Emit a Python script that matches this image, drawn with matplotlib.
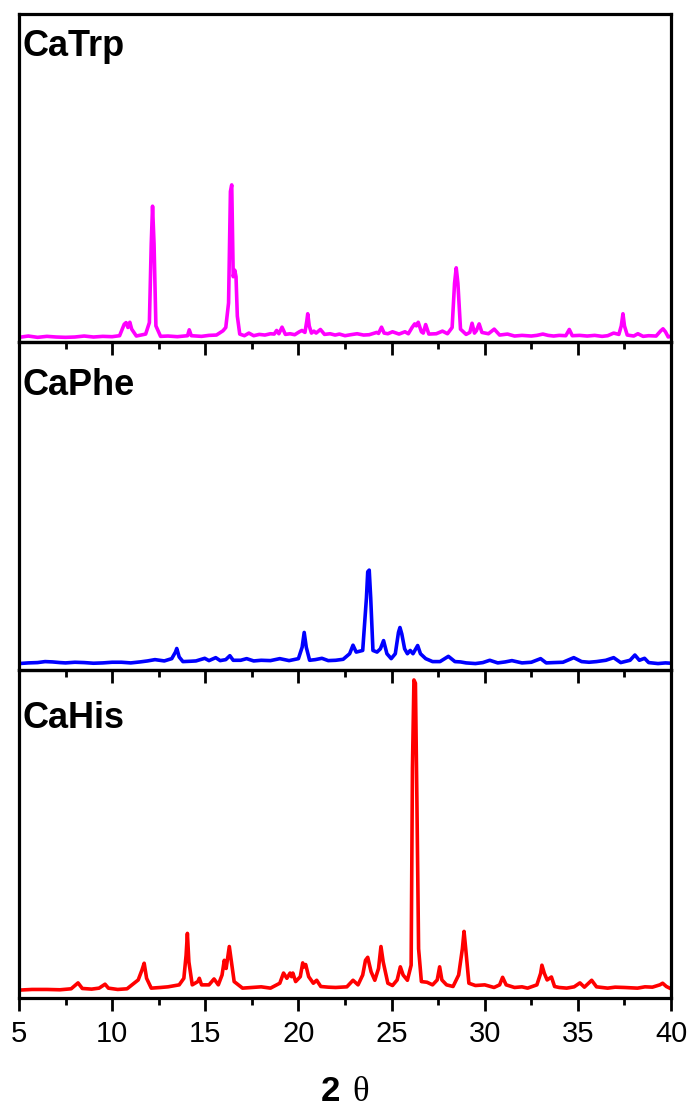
import numpy as np
import matplotlib
matplotlib.use("Agg")
import matplotlib.pyplot as plt
from matplotlib.ticker import MultipleLocator

plt.rcParams['font.family'] = ['Liberation Sans', 'DejaVu Sans']

# XRD traces (2theta, intensity in a.u., 0-100 per panel)
trp_x = [5.0, 5.5, 6.0, 6.5, 7.0, 7.5, 8.0, 8.5, 9.0, 9.5, 10.0, 10.4, 10.65, 10.75, 10.85,
         10.95, 11.05, 11.3, 11.8, 12.0, 12.1, 12.17, 12.25, 12.35, 12.6, 13.0, 13.5, 14.05,
         14.14, 14.25, 14.8, 15.2, 15.6, 15.95, 16.1, 16.25, 16.35, 16.42, 16.5, 16.58, 16.65,
         16.72, 16.85, 17.1, 17.34, 17.6, 17.9, 18.2, 18.5, 18.7, 18.83, 18.95, 19.12, 19.3,
         19.55, 19.8, 20.05, 20.19, 20.35, 20.45, 20.5, 20.58, 20.7, 20.83, 20.95, 21.18, 21.4,
         21.7, 21.97, 22.2, 22.5, 22.8, 23.15, 23.5, 23.8, 24.2, 24.3, 24.46, 24.6, 24.8,
         25.05, 25.4, 25.72, 25.9, 26.1, 26.24, 26.33, 26.43, 26.6, 26.7, 26.83, 27.0, 27.4,
         27.73, 28.0, 28.25, 28.38, 28.47, 28.56, 28.7, 29.0, 29.2, 29.32, 29.45, 29.55, 29.7,
         29.85, 30.2, 30.51, 30.8, 31.22, 31.6, 32.0, 32.5, 32.8, 33.12, 33.4, 33.7, 34.0,
         34.35, 34.54, 34.7, 35.1, 35.5, 35.9, 36.3, 36.6, 36.92, 37.2, 37.33, 37.42, 37.5,
         37.65, 38.0, 38.22, 38.5, 38.8, 39.2, 39.45, 39.57, 39.7, 39.85, 40.0]
trp_y = [1.5, 1.9, 1.5, 1.8, 1.6, 1.5, 1.6, 1.9, 1.6, 1.8, 1.7, 2.0, 5.5, 6.0, 4.5,
         6.1, 4.0, 1.9, 2.5, 6.0, 30.0, 41.5, 30.0, 5.0, 1.8, 1.9, 1.7, 2.0,
         3.8, 2.0, 1.8, 2.1, 2.2, 3.5, 4.5, 12.0, 46.0, 48.0, 20.0, 22.0, 20.0,
         8.0, 2.5, 2.0, 2.8, 2.0, 2.4, 2.2, 2.6, 2.5, 3.6, 2.6, 4.6, 2.4,
         2.6, 2.3, 3.2, 3.6, 3.0, 6.5, 8.7, 5.0, 2.8, 3.4, 2.8, 3.9, 2.4,
         2.6, 2.2, 2.5, 2.0, 2.3, 2.6, 2.2, 2.3, 3.0, 2.7, 4.6, 2.8, 2.6,
         3.2, 2.5, 3.2, 2.6, 4.5, 5.6, 5.0, 6.1, 3.2, 2.8, 5.4, 2.5, 2.6,
         3.4, 2.6, 4.5, 18.0, 22.7, 18.0, 4.0, 2.4, 3.0, 5.8, 2.8, 3.5, 5.6,
         3.0, 2.6, 4.0, 2.2, 2.5, 1.9, 2.1, 1.9, 2.1, 2.5, 2.1, 1.9, 2.1,
         2.0, 3.9, 2.0, 2.1, 1.9, 2.1, 1.8, 2.0, 2.8, 2.4, 5.0, 8.7, 5.0,
         2.2, 1.9, 2.6, 1.8, 2.0, 1.9, 3.5, 4.1, 3.2, 1.6, 1.9]

phe_x = [5.0, 5.5, 6.0, 6.4, 6.8, 7.2, 7.5, 8.0, 8.5, 9.0, 9.5, 10.0, 10.5, 11.0, 11.5,
         11.9, 12.3, 12.8, 13.2, 13.4, 13.47, 13.6, 13.8, 14.2, 14.5, 14.97, 15.2, 15.56,
         15.8, 16.1, 16.32, 16.5, 16.9, 17.22, 17.6, 18.0, 18.5, 19.0, 19.5, 20.0, 20.2,
         20.31, 20.42, 20.6, 20.9, 21.26, 21.6, 22.0, 22.4, 22.75, 22.93, 23.1, 23.45, 23.65,
         23.72, 23.8, 23.88, 24.0, 24.22, 24.4, 24.57, 24.75, 24.98, 25.2, 25.37, 25.45, 25.55,
         25.7, 25.85, 26.0, 26.15, 26.4, 26.55, 26.83, 27.2, 27.6, 28.05, 28.4, 28.7, 29.0,
         29.5, 29.9, 30.27, 30.7, 31.1, 31.46, 32.0, 32.5, 33.0, 33.3, 33.7, 34.2, 34.78,
         35.2, 35.6, 36.0, 36.5, 36.92, 37.3, 37.8, 38.06, 38.3, 38.58, 38.8, 39.3, 39.7, 40.0]
phe_y = [2.0, 2.2, 2.3, 2.6, 2.5, 2.3, 2.2, 2.4, 2.3, 2.1, 2.2, 2.4, 2.4, 2.2, 2.5,
         2.8, 3.2, 2.8, 3.5, 5.5, 6.6, 4.0, 2.6, 2.7, 2.8, 3.6, 2.9, 3.8,
         2.9, 3.2, 4.4, 3.0, 3.0, 3.5, 2.8, 3.0, 2.9, 3.5, 2.9, 3.5, 7.0,
         11.5, 7.0, 3.0, 3.2, 3.6, 2.9, 3.0, 3.3, 5.0, 7.6, 5.5, 6.0, 22.0,
         30.0, 30.5, 22.0, 6.0, 5.5, 6.5, 9.0, 5.0, 3.5, 5.0, 11.5, 13.0, 11.0,
         6.5, 5.0, 6.0, 5.0, 7.5, 5.0, 3.5, 2.6, 2.6, 4.2, 2.6, 2.5, 2.2,
         2.0, 2.3, 3.0, 2.2, 2.5, 2.9, 2.2, 2.4, 3.5, 2.2, 2.3, 2.4, 3.8,
         2.6, 2.4, 2.6, 3.0, 3.8, 2.3, 3.0, 4.6, 3.0, 3.6, 2.3, 2.0, 2.2, 2.1]

his_x = [5.0, 5.7, 6.5, 7.2, 7.8, 8.17, 8.4, 8.9, 9.3, 9.62, 9.8, 10.3, 10.8, 11.4, 11.6,
         11.72, 11.85, 12.1, 12.6, 13.0, 13.6, 13.85, 13.97, 14.04, 14.12, 14.3, 14.6, 14.68,
         14.8, 15.2, 15.47, 15.7, 15.9, 16.02, 16.12, 16.29, 16.38, 16.55, 17.0, 17.5, 18.0,
         18.5, 19.0, 19.2, 19.38, 19.55, 19.63, 19.7, 19.85, 20.1, 20.23, 20.31, 20.39, 20.55,
         20.8, 20.98, 21.2, 21.6, 22.0, 22.6, 22.93, 23.2, 23.45, 23.6, 23.72, 23.9, 24.1,
         24.3, 24.43, 24.55, 24.8, 25.05, 25.3, 25.47, 25.62, 25.85, 26.05, 26.12, 26.2, 26.28,
         26.36, 26.45, 26.6, 26.9, 27.2, 27.45, 27.58, 27.7, 27.95, 28.3, 28.6, 28.8, 28.89,
         28.98, 29.15, 29.5, 30.0, 30.5, 30.8, 30.96, 31.15, 31.6, 32.0, 32.3, 32.8, 33.0,
         33.07, 33.2, 33.35, 33.58, 33.75, 34.0, 34.4, 34.8, 35.11, 35.35, 35.74, 36.0, 36.6,
         37.0, 37.5, 38.2, 38.6, 39.0, 39.4, 39.55, 39.75, 40.0]
his_y = [2.4, 2.6, 2.6, 2.5, 2.8, 4.6, 2.9, 2.7, 3.0, 4.2, 3.0, 2.6, 2.8, 5.5, 8.5,
         10.6, 6.0, 3.0, 3.2, 3.4, 4.0, 6.0, 13.0, 19.7, 11.0, 4.0, 5.0, 6.0,
         4.0, 4.0, 5.8, 4.0, 7.0, 11.5, 9.0, 15.7, 12.0, 5.0, 3.0, 3.2, 3.4,
         3.0, 4.5, 7.6, 6.0, 7.6, 6.5, 7.6, 5.0, 6.5, 10.7, 9.5, 10.2, 6.5,
         4.5, 5.4, 3.5, 3.3, 3.2, 3.4, 5.4, 4.0, 7.0, 11.5, 12.4, 8.0, 5.4,
         9.0, 15.7, 11.0, 4.5, 3.8, 5.5, 9.5, 7.0, 5.4, 10.0, 70.0, 97.0, 96.0,
         60.0, 15.0, 5.0, 4.8, 4.0, 5.5, 9.5, 5.5, 4.0, 3.5, 7.0, 15.0, 20.3,
         15.0, 4.5, 3.8, 4.0, 3.2, 4.0, 6.3, 4.0, 3.2, 3.4, 3.0, 4.0, 7.5,
         10.0, 7.5, 5.5, 6.4, 3.5, 3.2, 3.0, 3.4, 4.6, 3.3, 5.4, 3.4, 3.0,
         3.3, 3.2, 3.0, 3.4, 3.3, 4.0, 4.5, 3.5, 2.8]

samples = ["CaTrp", "CaPhe", "CaHis"]
colors = ["#FF00FF", "#0000FF", "#FF0000"]
series = [(trp_x, trp_y), (phe_x, phe_y), (his_x, his_y)]
label_y = [0.872, 0.84, 0.822]

fig, axes = plt.subplots(3, 1, sharex=True, figsize=(6.9, 11.08), dpi=100)
fig.subplots_adjust(left=0.0275, right=0.9725, top=0.987, bottom=0.0993, hspace=0)

for ax, name, c, (xs, ys), ly in zip(axes, samples, colors, series, label_y):
    ax.set_facecolor("none")
    ax.plot(xs, ys, color=c, lw=2.6, solid_joinstyle="round")
    ax.set_xlim(5, 40)
    ax.set_ylim(0, 100)
    ax.set_yticks([])
    for sp in ax.spines.values():
        sp.set_linewidth(2.3)
    ax.xaxis.set_major_locator(MultipleLocator(5))
    ax.xaxis.set_minor_locator(MultipleLocator(2.5))
    ax.tick_params(axis="x", which="major", direction="out", length=9.5, width=2.0,
                   labelsize=21, pad=6)
    ax.tick_params(axis="x", which="minor", direction="out", length=5, width=2.0)
    ax.text(0.006, ly, name, transform=ax.transAxes, fontsize=26, fontweight="bold",
            ha="left", va="baseline")

for ax in axes[:-1]:
    ax.tick_params(axis="x", which="both", labelbottom=False)

fig.text(0.493, 0.0065, "2", fontsize=25, fontweight="bold", ha="right", va="baseline")
fig.text(0.51, 0.0065, "θ", fontsize=25, family="Liberation Serif", ha="left", va="baseline")

fig.savefig("out.png", dpi=100)
